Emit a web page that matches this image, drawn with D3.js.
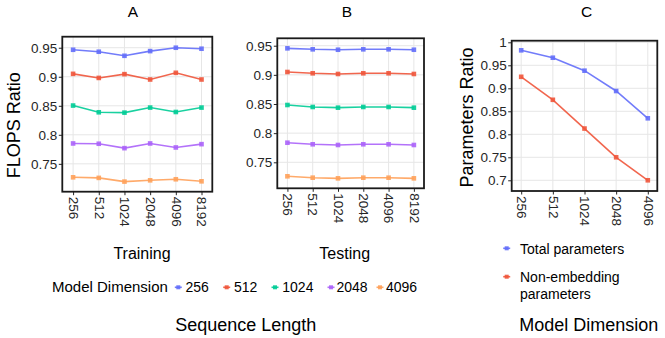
<!DOCTYPE html>
<html>
<head>
<meta charset="utf-8">
<script src="https://cdn.jsdelivr.net/npm/d3@7"></script>
<style>
  html, body { margin: 0; padding: 0; background: #fff; }
  svg { display: block; font-family: "Liberation Sans", Arial, Helvetica, sans-serif; }
</style>
</head>
<body>
<svg id="chart" width="665" height="338"></svg>
<script>
// ---------------- data ----------------
const seqLengths = ["256", "512", "1024", "2048", "4096", "8192"];
const modelDims = ["256", "512", "1024", "2048", "4096"];
const seriesColors = ["#636EFA", "#EF553B", "#00CC96", "#AB63FA", "#FFA15A"];

// Panel A: Training FLOPS ratio, one array per model dimension
const train256  = [0.9465, 0.9431, 0.9361, 0.9442, 0.9500, 0.9483];
const train512  = [0.9050, 0.8980, 0.9045, 0.8953, 0.9068, 0.8953];
const train1024 = [0.8504, 0.8388, 0.8382, 0.8469, 0.8393, 0.8469];
const train2048 = [0.7851, 0.7846, 0.7770, 0.7851, 0.7782, 0.7839];
const train4096 = [0.7268, 0.7258, 0.7194, 0.7216, 0.7234, 0.7199];

// Panel B: Testing FLOPS ratio
const test256  = [0.9455, 0.9438, 0.9431, 0.9438, 0.9438, 0.9431];
const test512  = [0.9049, 0.9027, 0.9015, 0.9027, 0.9027, 0.9015];
const test1024 = [0.8483, 0.8449, 0.8437, 0.8449, 0.8449, 0.8437];
const test2048 = [0.7836, 0.7809, 0.7797, 0.7809, 0.7809, 0.7797];
const test4096 = [0.7260, 0.7236, 0.7225, 0.7236, 0.7236, 0.7225];

// Panel C: parameters ratio vs model dimension
const totalParams        = [0.9826, 0.9665, 0.9383, 0.8941, 0.8348];
const nonEmbeddingParams = [0.9250, 0.8750, 0.8125, 0.7500, 0.7000];
const paramSeriesNames = ["Total parameters", "Non-embedding parameters"];
const paramColors = ["#636EFA", "#EF553B"];

const flopsTicks = [0.75, 0.8, 0.85, 0.9, 0.95];
const paramTicks = [0.7, 0.75, 0.8, 0.85, 0.9, 0.95, 1];

const trainSeries = [train256, train512, train1024, train2048, train4096];
const testSeries  = [test256, test512, test1024, test2048, test4096];

// ---------------- drawing ----------------
const svg = d3.select("#chart");
const tickColor = "#262626";
const gridColor = "#e6e6e6";
const tickFont = 13.5;

function panel(cfg) {
  const x = d3.scalePoint().domain(cfg.cats).range([cfg.left, cfg.right]).padding(cfg.pad);
  const y = d3.scaleLinear().domain(cfg.yDomain).range([cfg.bottom, cfg.top]);
  const g = svg.append("g");

  // grid
  g.append("g").selectAll("line.v").data(cfg.cats).join("line")
    .attr("x1", d => x(d)).attr("x2", d => x(d))
    .attr("y1", cfg.top).attr("y2", cfg.bottom)
    .attr("stroke", gridColor).attr("stroke-width", 1);
  g.append("g").selectAll("line.h").data(cfg.ticks).join("line")
    .attr("x1", cfg.left).attr("x2", cfg.right)
    .attr("y1", d => y(d)).attr("y2", d => y(d))
    .attr("stroke", gridColor).attr("stroke-width", 1);

  // series
  cfg.series.forEach((vals, i) => {
    const pts = vals.map((v, j) => [x(cfg.cats[j]), y(v)]);
    g.append("path")
      .attr("d", d3.line()(pts))
      .attr("fill", "none")
      .attr("stroke", cfg.colors[i])
      .attr("stroke-width", 1.6)
      .attr("stroke-opacity", 0.9);
    g.append("g").selectAll("rect").data(pts).join("rect")
      .attr("x", d => d[0] - 2.3).attr("y", d => d[1] - 2.3)
      .attr("width", 4.6).attr("height", 4.6)
      .attr("fill", cfg.colors[i]).attr("fill-opacity", 0.9);
  });

  // axes
  const ya = g.append("g").attr("transform", `translate(${cfg.left},0)`)
    .call(d3.axisLeft(y).tickValues(cfg.ticks).tickFormat(d => String(d)).tickSize(3.5).tickPadding(1.5));
  ya.select(".domain").remove();
  ya.selectAll("line").attr("stroke", tickColor);
  ya.selectAll("text").attr("fill", tickColor).attr("font-size", tickFont)
    .attr("font-family", "Liberation Sans, Arial, sans-serif");

  const xa = g.append("g").attr("transform", `translate(0,${cfg.bottom})`)
    .call(d3.axisBottom(x).tickSize(3.5));
  xa.select(".domain").remove();
  xa.selectAll("line").attr("stroke", tickColor);
  xa.selectAll("text")
    .attr("fill", tickColor).attr("font-size", tickFont)
    .attr("font-family", "Liberation Sans, Arial, sans-serif")
    .attr("transform", "rotate(90)")
    .attr("x", 5).attr("y", 0).attr("dy", "0.35em")
    .attr("text-anchor", "start");

  // border
  g.append("rect")
    .attr("x", cfg.left).attr("y", cfg.top)
    .attr("width", cfg.right - cfg.left).attr("height", cfg.bottom - cfg.top)
    .attr("fill", "none").attr("stroke", "#1a1a1a").attr("stroke-width", 1.8);

  // title
  svg.append("text").attr("x", cfg.titleX).attr("y", 16.7)
    .attr("text-anchor", "middle").attr("font-size", 15.5).attr("fill", "#000")
    .text(cfg.title);
  if (cfg.sub) {
    svg.append("text").attr("x", cfg.subX).attr("y", 258.7)
      .attr("text-anchor", "middle").attr("font-size", 16).attr("fill", "#000")
      .text(cfg.sub);
  }
}

panel({ cats: seqLengths, series: trainSeries, colors: seriesColors, ticks: flopsTicks,
  left: 62.3, right: 212.3, top: 36.7, bottom: 191.7, pad: 0.42, yDomain: [0.702, 0.969],
  title: "A", titleX: 133, sub: "Training", subX: 142 });
panel({ cats: seqLengths, series: testSeries, colors: seriesColors, ticks: flopsTicks,
  left: 277.3, right: 424, top: 38.3, bottom: 188.3, pad: 0.4, yDomain: [0.7054, 0.9627],
  title: "B", titleX: 347, sub: "Testing", subX: 344.7 });
panel({ cats: modelDims, series: [totalParams, nonEmbeddingParams], colors: paramColors, ticks: paramTicks,
  left: 511.7, right: 657.3, top: 40.7, bottom: 191, pad: 0.3, yDomain: [0.6767, 1.0035],
  title: "C", titleX: 586.7 });

// y axis titles
svg.append("text").attr("transform", "translate(20,125.3) rotate(-90)")
  .attr("text-anchor", "middle").attr("font-size", 18).attr("fill", "#000").text("FLOPS Ratio");
svg.append("text").attr("transform", "translate(473,117.5) rotate(-90)")
  .attr("text-anchor", "middle").attr("font-size", 18).attr("fill", "#000").text("Parameters Ratio");

// bottom titles
svg.append("text").attr("x", 245.7).attr("y", 330.7).attr("text-anchor", "middle")
  .attr("font-size", 18).attr("fill", "#000").text("Sequence Length");
svg.append("text").attr("x", 519.3).attr("y", 330.7).attr("text-anchor", "start")
  .attr("font-size", 18).attr("fill", "#000").text("Model Dimension");

// legend A/B
function legendKey(cx, cy, color) {
  svg.append("line").attr("x1", cx - 3.5).attr("x2", cx + 3.5).attr("y1", cy).attr("y2", cy)
    .attr("stroke", color).attr("stroke-width", 1.6).attr("stroke-opacity", 0.9);
  svg.append("rect").attr("x", cx - 2).attr("y", cy - 2).attr("width", 4).attr("height", 4)
    .attr("fill", color).attr("fill-opacity", 0.9);
}
svg.append("text").attr("x", 52).attr("y", 292.3).attr("font-size", 15).attr("fill", "#000")
  .text("Model Dimension");
const keyXs = [178.3, 226.7, 275, 331, 380];
const keyTextXs = [185.5, 234, 282.3, 336.5, 386];
modelDims.forEach((d, i) => {
  legendKey(keyXs[i], 287.3, seriesColors[i]);
  svg.append("text").attr("x", keyTextXs[i]).attr("y", 292.3).attr("font-size", 14)
    .attr("fill", "#000").text(d);
});

// legend C
legendKey(506.7, 248.3, paramColors[0]);
svg.append("text").attr("x", 520).attr("y", 253.5).attr("font-size", 14).attr("fill", "#000")
  .text(paramSeriesNames[0]);
legendKey(506.7, 276.7, paramColors[1]);
const nonEmbWords = paramSeriesNames[1].split(" ");
svg.append("text").attr("x", 520).attr("y", 282).attr("font-size", 14).attr("fill", "#000")
  .text(nonEmbWords[0]);
svg.append("text").attr("x", 520).attr("y", 298.5).attr("font-size", 14).attr("fill", "#000")
  .text(nonEmbWords[1]);
</script>
</body>
</html>
